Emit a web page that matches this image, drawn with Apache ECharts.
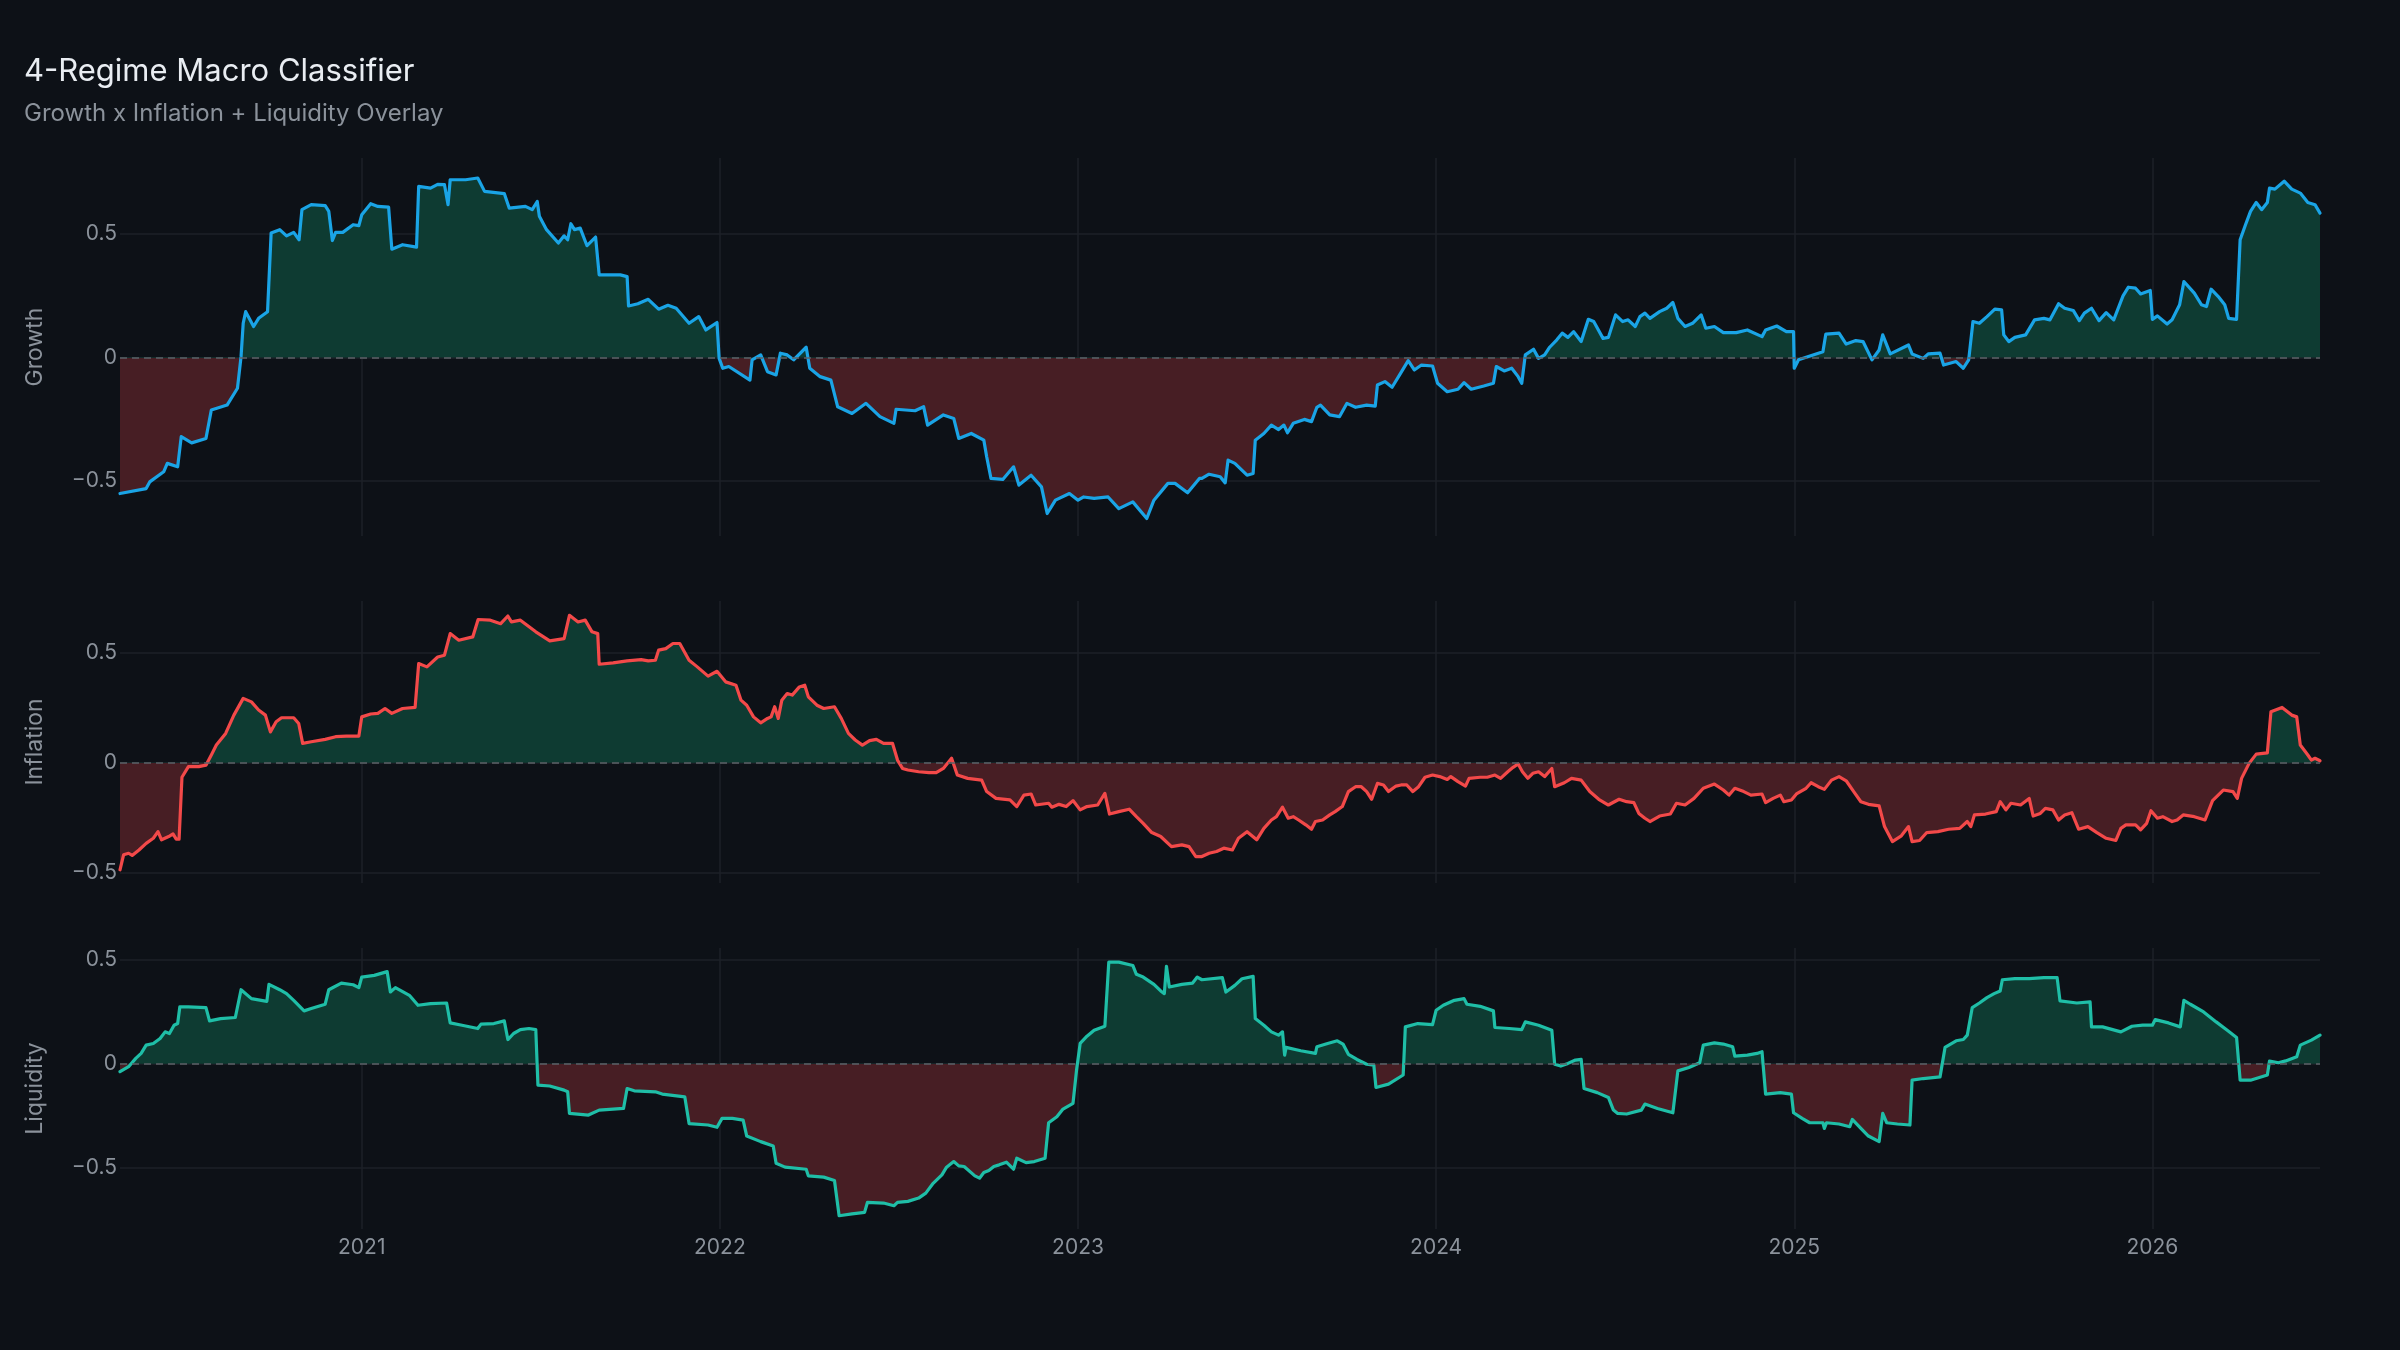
<!DOCTYPE html>
<html>
<head>
<meta charset="utf-8">
<title>4-Regime Macro Classifier</title>
<script src="https://cdn.jsdelivr.net/npm/echarts@6.0.0/dist/echarts.min.js"></script>
<style>
  html, body { margin: 0; padding: 0; background: #0d1117; }
  #main { width: 2400px; height: 1350px; }
</style>
</head>
<body>
<div id="main"></div>
<script>
// time is in decimal years, values are the regime scores

const growthT = [
  2020.325,2020.398,2020.408,2020.447,2020.457,2020.486,2020.496,2020.525,2020.565,2020.580,
  2020.624,2020.653,2020.663,2020.669,2020.676,2020.698,2020.712,2020.737,2020.747,2020.771,
  2020.790,2020.810,2020.825,2020.833,2020.859,2020.898,2020.908,2020.918,2020.927,2020.947,
  2020.976,2020.992,2021.000,2021.025,2021.045,2021.075,2021.084,2021.114,2021.153,2021.159,
  2021.192,2021.212,2021.231,2021.241,2021.247,2021.290,2021.324,2021.343,2021.398,2021.412,
  2021.457,2021.476,2021.490,2021.496,2021.516,2021.549,2021.565,2021.575,2021.584,2021.594,
  2021.610,2021.629,2021.653,2021.663,2021.722,2021.741,2021.745,2021.771,2021.800,2021.829,
  2021.855,2021.878,2021.914,2021.941,2021.961,2021.992,2021.998,2022.008,2022.025,2022.084,
  2022.090,2022.114,2022.133,2022.157,2022.169,2022.188,2022.206,2022.241,2022.251,2022.280,
  2022.310,2022.329,2022.369,2022.408,2022.447,2022.486,2022.492,2022.545,2022.569,2022.580,
  2022.624,2022.653,2022.667,2022.702,2022.737,2022.745,2022.757,2022.790,2022.820,2022.835,
  2022.869,2022.898,2022.914,2022.937,2022.976,2023.000,2023.016,2023.045,2023.084,2023.114,
  2023.153,2023.192,2023.212,2023.251,2023.271,2023.306,2023.339,
  2023.346,2023.366,2023.397,2023.411,2023.419,2023.438,2023.472,2023.489,2023.495,2023.519,
  2023.540,2023.560,2023.575,2023.585,2023.601,2023.632,2023.652,2023.667,2023.677,2023.703,
  2023.730,2023.751,2023.775,2023.806,2023.830,2023.836,2023.857,2023.877,2023.898,2023.922,
  2023.939,2023.959,2023.990,2024.004,2024.031,2024.061,2024.078,2024.098,2024.133,2024.160,
  2024.168,2024.190,2024.211,2024.229,2024.239,2024.249,2024.272,2024.286,2024.303,2024.317,
  2024.337,2024.352,2024.368,2024.384,2024.405,2024.425,2024.440,2024.466,2024.481,2024.501,
  2024.521,2024.536,2024.556,2024.569,2024.583,2024.597,2024.624,2024.644,2024.661,2024.675,
  2024.695,2024.716,2024.740,2024.753,2024.777,2024.802,2024.838,2024.869,2024.910,2024.920,
  2024.951,2024.978,2024.998,2025.000,2025.012,2025.080,2025.088,2025.125,2025.145,2025.172,
  2025.192,2025.217,2025.237,2025.247,2025.268,2025.319,2025.329,2025.360,2025.374,2025.407,
  2025.417,2025.452,2025.472,2025.487,2025.499,2025.517,2025.538,2025.560,2025.579,2025.585,
  2025.599,2025.616,2025.646,2025.671,2025.697,2025.714,2025.738,2025.755,2025.779,2025.796,
  2025.810,2025.830,2025.851,2025.871,2025.892,2025.918,2025.933,2025.953,2025.967,2025.994,
  2026.000,2026.014,2026.041,2026.055,2026.076,2026.088,2026.117,2026.137,2026.151,2026.164,
  2026.184,2026.202,2026.213,2026.235,2026.245,2026.260,2026.274,2026.290,2026.305,2026.321,
  2026.327,2026.342,2026.368,2026.389,2026.413,2026.434,2026.454,2026.468
];
const growthV = [
  -0.550,-0.530,-0.503,-0.462,-0.428,-0.442,-0.320,-0.345,-0.327,-0.212,
  -0.192,-0.124,0.004,0.139,0.186,0.126,0.159,0.186,0.504,0.518,
  0.493,0.507,0.477,0.599,0.619,0.615,0.592,0.474,0.507,0.507,
  0.538,0.534,0.578,0.623,0.612,0.609,0.439,0.457,0.447,0.693,
  0.686,0.701,0.700,0.619,0.720,0.720,0.727,0.673,0.664,0.605,
  0.612,0.599,0.632,0.572,0.518,0.464,0.493,0.477,0.542,0.518,
  0.524,0.453,0.488,0.335,0.335,0.328,0.209,0.218,0.236,0.196,
  0.212,0.200,0.139,0.166,0.112,0.142,-0.003,-0.043,-0.036,-0.091,
  -0.009,0.011,-0.057,-0.070,0.018,0.011,-0.009,0.042,-0.043,-0.077,
  -0.091,-0.199,-0.226,-0.185,-0.239,-0.266,-0.209,-0.215,-0.199,-0.273,
  -0.232,-0.246,-0.327,-0.307,-0.334,-0.401,-0.489,-0.493,-0.442,-0.516,
  -0.476,-0.523,-0.631,-0.577,-0.550,-0.577,-0.564,-0.570,-0.564,-0.611,
  -0.584,-0.651,-0.577,-0.509,-0.509,-0.547,-0.489,
  -0.489,-0.472,-0.482,-0.507,-0.415,-0.428,-0.476,-0.469,-0.334,-0.307,
  -0.273,-0.291,-0.273,-0.304,-0.266,-0.250,-0.259,-0.201,-0.192,-0.232,
  -0.239,-0.185,-0.201,-0.192,-0.196,-0.111,-0.097,-0.120,-0.070,-0.012,
  -0.050,-0.030,-0.034,-0.104,-0.138,-0.128,-0.101,-0.128,-0.115,-0.104,
  -0.036,-0.054,-0.043,-0.077,-0.104,0.011,0.034,-0.003,0.011,0.042,
  0.072,0.099,0.082,0.105,0.065,0.155,0.146,0.078,0.082,0.173,
  0.146,0.153,0.126,0.166,0.180,0.159,0.186,0.200,0.223,0.159,
  0.126,0.139,0.173,0.119,0.126,0.101,0.101,0.112,0.085,0.112,
  0.128,0.105,0.105,-0.043,-0.009,0.024,0.095,0.099,0.055,0.069,
  0.065,-0.009,0.031,0.092,0.015,0.051,0.015,-0.003,0.015,0.018,
  -0.030,-0.016,-0.043,-0.009,0.146,0.139,0.166,0.196,0.193,0.092,
  0.065,0.082,0.092,0.153,0.159,0.153,0.218,0.200,0.191,0.150,
  0.180,0.200,0.150,0.182,0.153,0.250,0.285,0.281,0.258,0.272,
  0.155,0.169,0.136,0.153,0.214,0.308,0.261,0.214,0.207,0.277,
  0.247,0.214,0.159,0.155,0.477,0.538,0.592,0.628,0.599,0.628,
  0.686,0.682,0.714,0.682,0.666,0.628,0.619,0.585
];

const inflationT = [
  2020.325,2020.335,2020.349,2020.359,2020.378,2020.398,2020.418,2020.431,2020.441,2020.461,
  2020.473,2020.482,2020.490,2020.498,2020.516,2020.545,2020.565,2020.580,2020.594,2020.620,
  2020.643,2020.669,2020.692,2020.712,2020.731,2020.745,2020.761,2020.776,2020.810,2020.824,
  2020.835,2020.859,2020.898,2020.927,2020.957,2020.992,2021.000,2021.025,2021.045,2021.065,
  2021.084,2021.114,2021.149,2021.159,2021.182,2021.212,2021.231,2021.247,2021.271,2021.310,
  2021.325,2021.359,2021.388,2021.408,2021.418,2021.443,2021.486,2021.525,2021.565,2021.580,
  2021.604,2021.624,2021.643,2021.659,2021.663,2021.702,2021.741,2021.780,2021.800,2021.820,
  2021.829,2021.849,2021.869,2021.888,2021.914,2021.937,2021.967,2021.992,2022.016,2022.045,
  2022.059,2022.075,2022.094,2022.114,2022.133,2022.143,2022.153,2022.163,2022.173,2022.188,
  2022.202,2022.222,2022.237,2022.247,2022.271,2022.290,2022.320,2022.339,2022.359,2022.378,
  2022.398,2022.418,2022.437,2022.457,2022.482,2022.496,2022.510,2022.525,2022.555,2022.584,
  2022.604,2022.624,2022.647,2022.663,2022.692,2022.731,2022.745,2022.771,2022.810,2022.829,
  2022.849,2022.869,2022.882,2022.918,2022.927,2022.947,2022.967,2022.986,2023.006,2023.025,
  2023.055,2023.075,2023.088,2023.114,2023.143,2023.163,2023.182,2023.206,2023.231,2023.261,
  2023.290,2023.310,2023.329,
  2023.346,2023.366,2023.387,2023.407,2023.431,2023.448,2023.472,2023.499,2023.519,2023.540,
  2023.554,2023.571,2023.587,2023.601,2023.616,2023.636,2023.652,2023.663,2023.683,2023.703,
  2023.718,2023.738,2023.755,2023.775,2023.791,2023.806,2023.820,2023.836,2023.853,2023.867,
  2023.888,2023.902,2023.918,2023.935,2023.951,2023.969,2023.990,2024.010,2024.031,2024.041,
  2024.061,2024.082,2024.092,2024.123,2024.143,2024.164,2024.180,2024.200,2024.215,2024.229,
  2024.241,2024.256,2024.270,2024.286,2024.303,2024.323,2024.331,2024.358,2024.378,2024.405,
  2024.429,2024.454,2024.481,2024.511,2024.532,2024.552,2024.566,2024.583,2024.597,2024.624,
  2024.654,2024.671,2024.695,2024.720,2024.746,2024.777,2024.802,2024.818,2024.834,2024.859,
  2024.879,2024.910,2024.920,2024.941,2024.961,2024.971,2024.992,2025.006,2025.033,2025.047,
  2025.067,2025.084,2025.104,2025.125,2025.145,2025.166,2025.186,2025.207,2025.237,2025.252,
  2025.274,2025.299,2025.319,2025.329,2025.350,2025.370,2025.401,2025.431,2025.462,2025.483,
  2025.493,2025.503,2025.534,2025.564,2025.575,2025.591,2025.605,2025.632,2025.656,2025.667,
  2025.687,2025.701,2025.722,2025.738,2025.755,2025.775,2025.794,2025.820,2025.845,2025.871,
  2025.898,2025.912,2025.926,2025.953,2025.967,2025.984,2025.996,2026.014,2026.029,2026.055,
  2026.069,2026.086,2026.117,2026.147,2026.168,2026.198,2026.225,2026.237,2026.249,2026.270,
  2026.290,2026.321,2026.331,2026.362,2026.389,2026.403,2026.413,2026.434,2026.444,2026.454,
  2026.468
];
const inflationV = [
  -0.486,-0.418,-0.411,-0.421,-0.396,-0.366,-0.343,-0.313,-0.350,-0.335,
  -0.323,-0.347,-0.347,-0.066,-0.018,-0.018,-0.011,0.035,0.080,0.133,
  0.216,0.292,0.276,0.239,0.216,0.140,0.186,0.204,0.204,0.178,
  0.088,0.095,0.106,0.118,0.121,0.121,0.208,0.221,0.224,0.246,
  0.224,0.246,0.251,0.450,0.435,0.480,0.488,0.586,0.556,0.571,
  0.650,0.647,0.631,0.666,0.639,0.647,0.594,0.553,0.563,0.669,
  0.639,0.647,0.594,0.586,0.447,0.453,0.462,0.468,0.462,0.465,
  0.511,0.518,0.541,0.541,0.465,0.435,0.393,0.415,0.367,0.352,
  0.284,0.261,0.208,0.181,0.201,0.208,0.254,0.201,0.284,0.314,
  0.307,0.344,0.352,0.299,0.261,0.246,0.254,0.201,0.133,0.103,
  0.080,0.100,0.106,0.088,0.088,0.012,-0.026,-0.033,-0.041,-0.045,
  -0.045,-0.026,0.020,-0.056,-0.071,-0.079,-0.131,-0.162,-0.169,-0.199,
  -0.147,-0.142,-0.192,-0.184,-0.202,-0.189,-0.199,-0.172,-0.214,-0.199,
  -0.192,-0.139,-0.233,-0.222,-0.211,-0.245,-0.275,-0.317,-0.335,-0.381,
  -0.373,-0.381,-0.426,
  -0.426,-0.411,-0.403,-0.388,-0.396,-0.343,-0.313,-0.350,-0.298,-0.260,
  -0.245,-0.202,-0.252,-0.245,-0.260,-0.282,-0.302,-0.267,-0.260,-0.237,
  -0.222,-0.199,-0.131,-0.109,-0.109,-0.131,-0.166,-0.094,-0.101,-0.131,
  -0.106,-0.101,-0.101,-0.131,-0.109,-0.066,-0.056,-0.063,-0.076,-0.063,
  -0.086,-0.106,-0.071,-0.066,-0.066,-0.056,-0.071,-0.041,-0.021,-0.006,
  -0.041,-0.071,-0.048,-0.041,-0.063,-0.026,-0.109,-0.091,-0.071,-0.079,
  -0.131,-0.166,-0.192,-0.166,-0.177,-0.181,-0.230,-0.252,-0.267,-0.242,
  -0.233,-0.184,-0.192,-0.162,-0.116,-0.097,-0.124,-0.147,-0.116,-0.131,
  -0.147,-0.142,-0.181,-0.162,-0.147,-0.177,-0.169,-0.142,-0.116,-0.091,
  -0.109,-0.121,-0.079,-0.063,-0.082,-0.131,-0.177,-0.189,-0.196,-0.290,
  -0.358,-0.332,-0.290,-0.358,-0.353,-0.317,-0.313,-0.302,-0.298,-0.267,
  -0.290,-0.237,-0.233,-0.222,-0.177,-0.214,-0.184,-0.192,-0.162,-0.242,
  -0.230,-0.207,-0.214,-0.260,-0.237,-0.227,-0.302,-0.290,-0.317,-0.343,
  -0.353,-0.298,-0.282,-0.282,-0.305,-0.275,-0.218,-0.252,-0.245,-0.267,
  -0.260,-0.237,-0.245,-0.260,-0.172,-0.124,-0.131,-0.162,-0.071,-0.003,
  0.039,0.045,0.231,0.251,0.216,0.208,0.080,0.035,0.012,0.020,
  0.009
];

const liquidityT = [
  2020.325,2020.349,2020.369,2020.384,2020.398,2020.418,2020.437,2020.451,2020.463,2020.476,
  2020.486,2020.492,2020.516,2020.565,2020.575,2020.606,2020.647,2020.663,2020.692,2020.735,
  2020.741,2020.771,2020.790,2020.810,2020.839,2020.859,2020.898,2020.908,2020.943,2020.976,
  2020.992,2021.000,2021.035,2021.071,2021.080,2021.094,2021.133,2021.157,2021.192,2021.237,
  2021.247,2021.280,2021.324,2021.333,2021.369,2021.398,2021.408,2021.424,2021.443,2021.467,
  2021.486,2021.492,2021.525,2021.565,2021.575,2021.580,2021.633,2021.663,2021.731,2021.741,
  2021.761,2021.820,2021.839,2021.902,2021.914,2021.967,2021.992,2022.006,2022.035,2022.065,
  2022.075,2022.114,2022.149,2022.157,2022.182,2022.241,2022.247,2022.290,2022.320,2022.333,
  2022.369,2022.404,2022.412,2022.457,2022.486,2022.496,2022.525,2022.555,2022.575,2022.594,
  2022.620,2022.633,2022.653,2022.667,2022.682,2022.712,2022.725,2022.737,2022.751,2022.765,
  2022.780,2022.800,2022.820,2022.829,2022.855,2022.878,2022.908,2022.918,2022.941,2022.957,
  2022.986,2022.996,2023.006,2023.025,2023.045,2023.075,2023.086,2023.114,2023.153,2023.163,
  2023.182,2023.212,2023.231,2023.241,2023.247,2023.255,2023.290,2023.320,2023.333,
  2023.346,2023.403,2023.413,2023.438,2023.458,2023.489,2023.495,2023.519,2023.540,2023.560,
  2023.571,2023.577,2023.581,2023.622,2023.663,2023.667,2023.697,2023.724,2023.740,2023.755,
  2023.779,2023.806,2023.826,2023.832,2023.867,2023.908,2023.914,2023.949,2023.990,2024.000,
  2024.020,2024.051,2024.078,2024.086,2024.123,2024.160,2024.164,2024.204,2024.239,2024.249,
  2024.286,2024.323,2024.331,2024.348,2024.368,2024.389,2024.405,2024.413,2024.450,2024.481,
  2024.495,2024.507,2024.532,2024.573,2024.583,2024.618,2024.661,2024.675,2024.706,2024.736,
  2024.746,2024.777,2024.802,2024.828,2024.834,2024.869,2024.896,2024.910,2024.920,2024.961,
  2024.992,2024.998,2025.022,2025.043,2025.080,2025.084,2025.090,2025.125,2025.155,2025.162,
  2025.186,2025.207,2025.237,2025.247,2025.258,2025.288,2025.323,2025.329,2025.360,2025.407,
  2025.421,2025.452,2025.472,2025.483,2025.497,2025.517,2025.538,2025.558,2025.575,2025.581,
  2025.616,2025.656,2025.697,2025.734,2025.742,2025.789,2025.826,2025.830,2025.861,2025.912,
  2025.943,2025.973,2026.000,2026.008,2026.045,2026.078,2026.088,2026.106,2026.143,2026.178,
  2026.209,2026.235,2026.245,2026.274,2026.321,2026.327,2026.352,2026.372,2026.403,2026.413,
  2026.444,2026.468
];
const liquidityV = [
  -0.038,-0.014,0.026,0.050,0.090,0.098,0.122,0.154,0.146,0.186,
  0.194,0.274,0.274,0.271,0.207,0.218,0.223,0.357,0.314,0.301,
  0.383,0.357,0.338,0.306,0.255,0.266,0.287,0.357,0.389,0.381,
  0.367,0.418,0.426,0.444,0.346,0.367,0.330,0.282,0.290,0.293,
  0.197,0.186,0.170,0.191,0.194,0.207,0.117,0.146,0.165,0.170,
  0.165,-0.103,-0.107,-0.127,-0.135,-0.239,-0.247,-0.223,-0.215,-0.119,
  -0.130,-0.135,-0.146,-0.159,-0.288,-0.295,-0.306,-0.263,-0.263,-0.271,
  -0.348,-0.375,-0.396,-0.479,-0.498,-0.508,-0.540,-0.546,-0.562,-0.732,
  -0.723,-0.716,-0.668,-0.671,-0.684,-0.668,-0.663,-0.647,-0.623,-0.579,
  -0.535,-0.498,-0.471,-0.492,-0.495,-0.540,-0.551,-0.524,-0.514,-0.495,
  -0.487,-0.474,-0.508,-0.455,-0.476,-0.471,-0.455,-0.284,-0.255,-0.220,
  -0.191,-0.030,0.098,0.133,0.162,0.181,0.490,0.490,0.474,0.431,
  0.418,0.383,0.351,0.338,0.470,0.370,0.383,0.389,0.418,
  0.405,0.415,0.346,0.378,0.410,0.421,0.218,0.186,0.154,0.138,
  0.154,0.042,0.079,0.063,0.050,0.082,0.098,0.111,0.095,0.046,
  0.021,-0.002,-0.006,-0.114,-0.098,-0.054,0.178,0.194,0.189,0.258,
  0.282,0.306,0.314,0.287,0.277,0.255,0.175,0.170,0.165,0.202,
  0.186,0.162,-0.002,-0.011,0.002,0.018,0.021,-0.119,-0.139,-0.162,
  -0.223,-0.239,-0.242,-0.223,-0.194,-0.215,-0.236,-0.034,-0.018,0.005,
  0.090,0.101,0.095,0.082,0.037,0.042,0.050,0.058,-0.146,-0.139,
  -0.146,-0.236,-0.263,-0.284,-0.284,-0.311,-0.284,-0.290,-0.303,-0.268,
  -0.311,-0.348,-0.375,-0.239,-0.284,-0.290,-0.295,-0.079,-0.071,-0.063,
  0.079,0.111,0.117,0.138,0.271,0.293,0.319,0.338,0.351,0.405,
  0.410,0.410,0.415,0.415,0.303,0.293,0.298,0.178,0.178,0.154,
  0.181,0.186,0.186,0.213,0.197,0.178,0.306,0.287,0.250,0.202,
  0.162,0.127,-0.079,-0.079,-0.054,0.013,0.005,0.014,0.034,0.090,
  0.114,0.138
];

const yearTicks = [2021, 2022, 2023, 2024, 2025, 2026];
const valueTicks = [-0.5, 0, 0.5];

const FONT = 'Inter, "Noto Sans", sans-serif';
const MUTED = '#8b929b';
const GRID_LINE = '#1c2128';
const POS_FILL = '#0e3b32';
const NEG_FILL = '#471e24';

function pair(t, v) {
    return t.map((x, i) => [x, v[i]]);
}

const xMin = Math.min(growthT[0], inflationT[0], liquidityT[0]);
const xMax = Math.max(growthT[growthT.length - 1], inflationT[inflationT.length - 1], liquidityT[liquidityT.length - 1]);

const panels = [
    { name: 'Growth', data: pair(growthT, growthV), color: '#1aa4e6', top: 158, height: 378, min: -0.722, max: 0.808 },
    { name: 'Inflation', data: pair(inflationT, inflationV), color: '#f34949', top: 601, height: 282, min: -0.546, max: 0.734 },
    { name: 'Liquidity', data: pair(liquidityT, liquidityV), color: '#1fbea7', top: 948, height: 281, min: -0.796, max: 0.558 }
];

function fmtYear(v) {
    const r = Math.round(v);
    return (Math.abs(v - r) < 1e-6 && yearTicks.indexOf(r) >= 0) ? String(r) : '';
}
function fmtValue(v) {
    const t = valueTicks.find(k => Math.abs(k - v) < 1e-9);
    if (t === undefined) return '';
    if (t === 0) return '0';
    return (t < 0 ? '\u2212' : '') + Math.abs(t);
}

const myChart = echarts.init(document.getElementById('main'), null, { renderer: 'canvas' });

const option = {
    backgroundColor: '#0d1117',
    animation: false,
    textStyle: { fontFamily: FONT },
    title: {
        text: '4-Regime Macro Classifier',
        subtext: 'Growth x Inflation + Liquidity Overlay',
        left: 24,
        top: 56,
        padding: 0,
        itemGap: 15,
        textStyle: { color: '#e9edf2', fontSize: 31, fontWeight: 'normal', fontFamily: FONT },
        subtextStyle: { color: MUTED, fontSize: 24, fontFamily: FONT }
    },
    grid: panels.map(p => ({ left: 120, right: 80, top: p.top, height: p.height })),
    xAxis: panels.map((p, i) => ({
        type: 'value',
        gridIndex: i,
        min: xMin,
        max: xMax,
        splitNumber: 6,
        axisLine: { show: false },
        axisTick: { show: false },
        axisLabel: {
            show: i === panels.length - 1,
            formatter: fmtYear,
            color: MUTED,
            fontSize: 21,
            fontFamily: FONT,
            margin: 8
        },
        splitLine: {
            show: true,
            showMinLine: false,
            showMaxLine: false,
            lineStyle: { color: GRID_LINE, width: 1.5 }
        }
    })),
    yAxis: panels.map((p, i) => ({
        type: 'value',
        gridIndex: i,
        min: p.min,
        max: p.max,
        splitNumber: 3,
        name: p.name,
        nameLocation: 'middle',
        nameGap: 73,
        nameTextStyle: { color: MUTED, fontSize: 23, fontFamily: FONT },
        axisLine: { show: false },
        axisTick: { show: false },
        axisLabel: {
            formatter: fmtValue,
            color: MUTED,
            fontSize: 21,
            fontFamily: FONT,
            margin: 3
        },
        splitLine: {
            show: true,
            showMinLine: false,
            showMaxLine: false,
            lineStyle: { color: GRID_LINE, width: 1.5 }
        }
    })),
    // fill colour splits at zero: green above, red below
    visualMap: panels.map((p, i) => ({
        type: 'piecewise',
        show: false,
        seriesIndex: i,
        dimension: 1,
        pieces: [
            { gt: 0, lte: 5, color: POS_FILL },
            { gte: -5, lte: 0, color: NEG_FILL }
        ]
    })),
    series: panels.map((p, i) => ({
        name: p.name,
        type: 'line',
        xAxisIndex: i,
        yAxisIndex: i,
        data: p.data,
        showSymbol: false,
        symbol: 'none',
        lineStyle: { color: p.color, width: 3.2, join: 'round', cap: 'round' },
        areaStyle: { origin: 0, opacity: 1 },
        markLine: {
            silent: true,
            symbol: ['none', 'none'],
            label: { show: false },
            lineStyle: { color: '#5c6168', type: [7, 5], width: 1.6 },
            data: [{ yAxis: 0 }]
        }
    }))
};

myChart.setOption(option);
</script>
</body>
</html>
